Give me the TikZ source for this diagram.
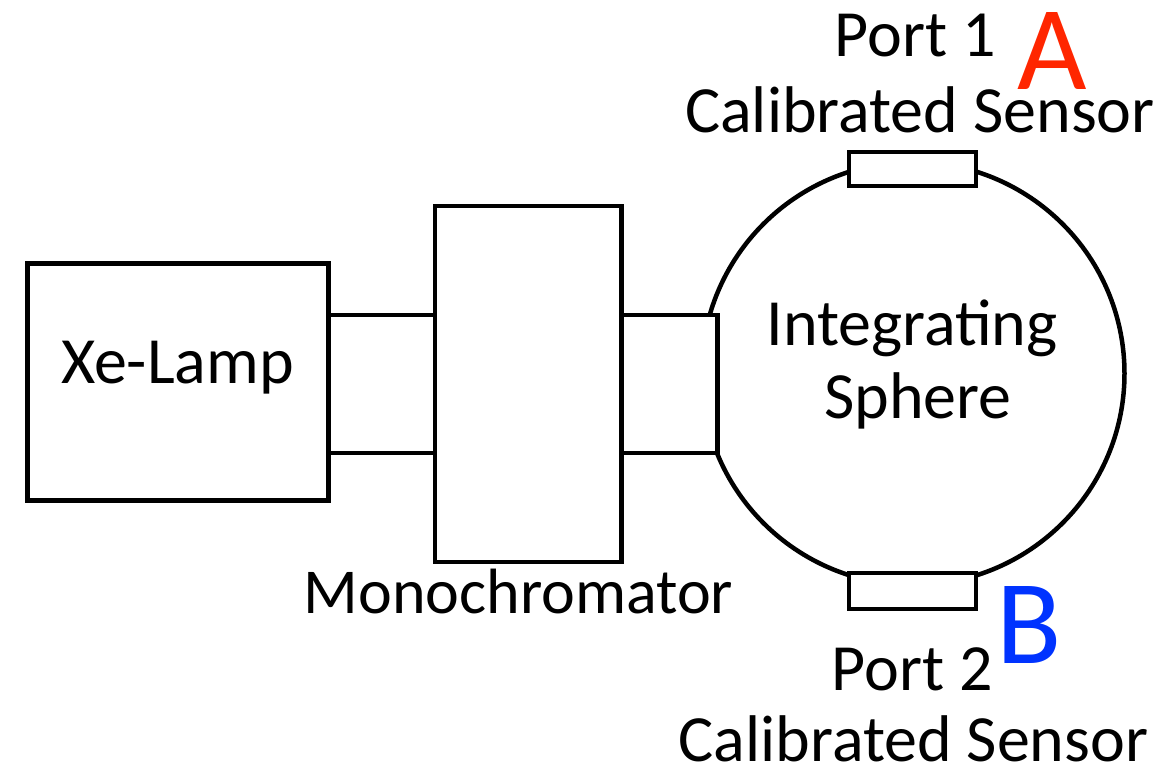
\documentclass[tikz,border=0pt]{standalone}
\usepackage{fontspec}
\setmainfont{Carlito}
\definecolor{Ared}{RGB}{255,38,0}
\definecolor{Bblue}{RGB}{0,51,255}
\begin{document}
\begin{tikzpicture}[x=1pt,y=-1pt,
  part/.style={draw=black,line width=4.5pt,fill=white,rectangle,inner sep=0pt,outer sep=0pt},
  lbl/.style={anchor=base,inner sep=0pt,font=\fontsize{66}{70}\selectfont},
  big/.style={anchor=base,inner sep=0pt,font=\fontsize{120}{124}\selectfont}]
\useasboundingbox[fill=white] (0,0) rectangle (1171,768);
% sphere
\node[draw=black,line width=4.5pt,circle,inner sep=0pt,minimum size=423pt] (sphere) at (913,373.5) {};
% boxes
\node[part,minimum width=301pt,minimum height=237pt] (lamp) at (178,382) {};
\node[part,minimum width=106.5pt,minimum height=138pt] (tube1) at (381.75,384) {};
\node[part,minimum width=186.7pt,minimum height=355.7pt] (mono) at (528.3,383.9) {};
\node[part,minimum width=95.8pt,minimum height=138pt] (tube2) at (669.6,384) {};
\node[part,minimum width=126.6pt,minimum height=34pt] (sensorA) at (912.5,169.2) {};
\node[part,minimum width=127.4pt,minimum height=35.8pt] (sensorB) at (912.5,590.9) {};
% labels
\node[lbl] (tlamp) at (177.5,383) {Xe-Lamp};
\node[lbl,font=\fontsize{64}{68}\selectfont] (tmono) at (518.5,613) {Monochromator};
\node[lbl] (tint) at (912,345) {Integrating};
\node[lbl] (tsph) at (918,418) {Sphere};
\node[lbl] (tp1) at (915,57) {Port 1};
\node[lbl] (tcs1) at (920,132) {Calibrated Sensor};
\node[lbl] (tp2) at (912,690) {Port 2};
\node[lbl] (tcs2) at (913.5,761) {Calibrated Sensor};
\node[big,text=Ared] (tA) at (1052,89) {A};
\node[big,text=Bblue] (tB) at (1029.5,663) {B};
\end{tikzpicture}
\end{document}
